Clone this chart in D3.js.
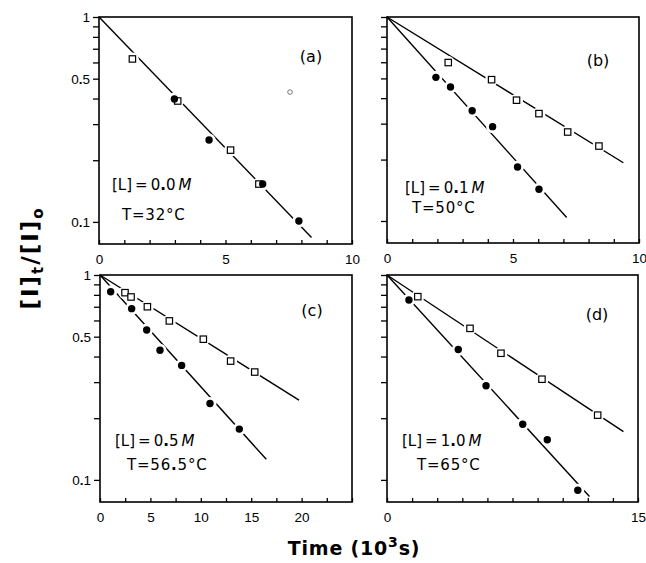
<!DOCTYPE html>
<html>
<head>
<meta charset="utf-8">
<script src="https://cdn.jsdelivr.net/npm/d3@7"></script>
<style>
  body { margin: 0; background: #fff; }
  svg { font-family: "DejaVu Sans", sans-serif; }
  .tick line { stroke: #000; stroke-width: 1.3; }
  .tick text { font-size: 13.5px; fill: #000; }
</style>
</head>
<body>
<svg id="chart" width="646" height="563"></svg>
<script>
// panel data (time in 10^3 s, [I]t/[I]o)
var panelNames = ["(a)", "(b)", "(c)", "(d)"];
var concLabels = [["0", "0"], ["0", "1"], ["0", "5"], ["1", "0"]];
var tempLabels = [["32"], ["50"], ["56", "5"], ["65"]];
var xMax = [10, 10, 25, 15];
var xTickStep = [1, 1, 2.5, 1.5];
var xTickLabels = [[0, 5, 10], [0, 5, 10], [0, 5, 10, 15, 20], [0, 5, 10, 15]];
var yTickLabels = [1, 0.5, 0.1];
var yMinorTicks = [0.9, 0.8, 0.7, 0.6, 0.4, 0.3, 0.2];

// open squares
var openT = [
  [1.32, 3.11, 5.2, 6.32],
  [2.43, 4.15, 5.14, 6.03, 7.17, 8.41],
  [2.48, 3.08, 4.7, 6.88, 10.25, 12.96, 15.35],
  [1.84, 4.96, 6.81, 9.26, 12.59]
];
var openV = [
  [0.624, 0.389, 0.224, 0.153],
  [0.598, 0.493, 0.391, 0.336, 0.273, 0.233],
  [0.82, 0.781, 0.70, 0.597, 0.486, 0.38, 0.336],
  [0.784, 0.549, 0.415, 0.31, 0.207]
];
// filled circles
var fillT = [
  [2.98, 4.35, 6.47, 7.9],
  [1.94, 2.52, 3.38, 4.19, 5.18, 6.03],
  [1.06, 3.14, 4.63, 5.95, 8.1, 10.91, 13.82],
  [1.31, 4.26, 5.92, 8.11, 9.58, 11.4]
];
var fillV = [
  [0.398, 0.251, 0.153, 0.101],
  [0.506, 0.454, 0.347, 0.29, 0.184, 0.143],
  [0.829, 0.685, 0.539, 0.429, 0.362, 0.236, 0.177],
  [0.755, 0.433, 0.288, 0.187, 0.157, 0.089]
];
// fitted lines start at (0, 1) and end here
var openLineEnd = [[8.4, 0.084], [9.38, 0.193], [19.74, 0.245], [14.13, 0.172]];
var fillLineEnd = [null, [7.13, 0.104], [16.5, 0.126], [12.1, 0.083]];
// small stray mark in panel (a)
var strayT = 7.55, strayV = 0.43;

var layout = [
  {x0: 99, x1: 352, y0: 17, y1: 244, yLabels: true},
  {x0: 387, x1: 639, y0: 17, y1: 243, yLabels: false},
  {x0: 100, x1: 352, y0: 275, y1: 502, yLabels: true},
  {x0: 387, x1: 638, y0: 275, y1: 502, yLabels: false}
];
var panelLabelPos = [[311, 62], [598, 66], [312, 316], [597, 320]];
var concPos = [[112, 190], [405, 193], [115, 446], [402, 446]];
var tempPos = [[122, 220], [412, 213], [127, 470], [417, 470]];

var svg = d3.select("#chart");

function decimalLabel(sel, parts) {
  // writes "0.5" style text with a heavy decimal dot
  parts.forEach(function(p, i) {
    if (i > 0) sel.append("tspan").attr("font-weight", "900").text(".");
    sel.append("tspan").text(p);
  });
}

layout.forEach(function(L, i) {
  var g = svg.append("g");
  var x = d3.scaleLinear().domain([0, xMax[i]]).range([L.x0, L.x1]);
  var y = d3.scaleLog().domain([0.078, 1]).range([L.y1, L.y0]);

  // axes
  var yAxis = d3.axisLeft(y)
    .tickValues(yTickLabels.concat(yMinorTicks))
    .tickSize(6).tickPadding(3)
    .tickFormat(function(d) {
      if (!L.yLabels || yTickLabels.indexOf(d) < 0) return "";
      return d === 1 ? "1" : String(d);
    });
  var gy = g.append("g").attr("transform", "translate(" + L.x0 + ",0)").call(yAxis);
  gy.select(".domain").remove();
  gy.selectAll(".tick text").each(function(d) {
    var t = d3.select(this);
    if (t.text().indexOf(".") > 0) {
      var parts = t.text().split(".");
      t.text("");
      decimalLabel(t, parts);
    }
  });

  var xAxis = d3.axisBottom(x)
    .tickValues(d3.range(0, xMax[i] + 0.001, xTickStep[i]))
    .tickSize(-4).tickPadding(10)
    .tickFormat(function(d) { return xTickLabels[i].indexOf(d) >= 0 ? d : ""; });
  var gx = g.append("g").attr("transform", "translate(0," + L.y1 + ")").call(xAxis);
  gx.select(".domain").remove();

  // frame
  g.append("rect")
    .attr("x", L.x0).attr("y", L.y0)
    .attr("width", L.x1 - L.x0).attr("height", L.y1 - L.y0)
    .attr("fill", "none").attr("stroke", "#000").attr("stroke-width", 1.6);

  // fit lines
  var line = d3.line().x(function(d) { return x(d[0]); }).y(function(d) { return y(d[1]); });
  [openLineEnd[i], fillLineEnd[i]].forEach(function(end) {
    if (!end) return;
    g.append("path").datum([[0, 1], end]).attr("d", line)
      .attr("fill", "none").attr("stroke", "#000").attr("stroke-width", 1.4);
  });

  // white halos break the line around each point
  var pts = openT[i].map(function(t, k) { return [t, openV[i][k]]; })
    .concat(fillT[i].map(function(t, k) { return [t, fillV[i][k]]; }));
  g.selectAll(".halo").data(pts).enter().append("circle")
    .attr("cx", function(d) { return x(d[0]); })
    .attr("cy", function(d) { return y(d[1]); })
    .attr("r", 6.5).attr("fill", "#fff");

  g.selectAll(".sq").data(openT[i]).enter().append("rect")
    .attr("x", function(d) { return x(d) - 3.2; })
    .attr("y", function(d, k) { return y(openV[i][k]) - 3.2; })
    .attr("width", 6.4).attr("height", 6.4)
    .attr("fill", "#fff").attr("stroke", "#000").attr("stroke-width", 1.2);

  g.selectAll(".dot").data(fillT[i]).enter().append("circle")
    .attr("cx", function(d) { return x(d); })
    .attr("cy", function(d, k) { return y(fillV[i][k]); })
    .attr("r", 3.7).attr("fill", "#000");

  if (i === 0) {
    g.append("circle").attr("cx", x(strayT)).attr("cy", y(strayV)).attr("r", 2.3)
      .attr("fill", "none").attr("stroke", "#555").attr("stroke-width", 0.8);
  }

  // panel letter
  g.append("text").attr("x", panelLabelPos[i][0]).attr("y", panelLabelPos[i][1])
    .attr("text-anchor", "middle").style("font-size", "16px").text(panelNames[i]);

  // condition labels
  var c = g.append("text").attr("x", concPos[i][0]).attr("y", concPos[i][1])
    .style("font-size", "15px");
  c.append("tspan").text("[L]\u2009=\u2009");
  decimalLabel(c, concLabels[i]);
  c.append("tspan").text("\u2009");
  c.append("tspan").attr("font-style", "italic").text("M");

  var tt = g.append("text").attr("x", tempPos[i][0]).attr("y", tempPos[i][1])
    .style("font-size", "15px").style("letter-spacing", "0.8px");
  tt.append("tspan").text("T=");
  decimalLabel(tt, tempLabels[i]);
  tt.append("tspan").text("°C");
});

// y title
var yt = svg.append("text")
  .attr("transform", "translate(38,258) rotate(-90)")
  .attr("text-anchor", "middle")
  .style("font-size", "23px").style("font-weight", "bold").style("letter-spacing", "2px");
yt.append("tspan").text("[I]");
yt.append("tspan").attr("font-size", "15px").attr("dy", 5).text("t");
yt.append("tspan").attr("dy", -5).text("/[I]");
yt.append("tspan").attr("font-size", "15px").attr("dy", 5).text("o");

// x title
var xt = svg.append("text")
  .attr("x", 354).attr("y", 555)
  .attr("text-anchor", "middle")
  .style("font-size", "19px").style("font-weight", "bold").style("letter-spacing", "0.8px");
xt.append("tspan").text("Time (10");
xt.append("tspan").attr("font-size", "14px").attr("dy", -8).text("3");
xt.append("tspan").attr("dy", 8).text("s)");
</script>
</body>
</html>
